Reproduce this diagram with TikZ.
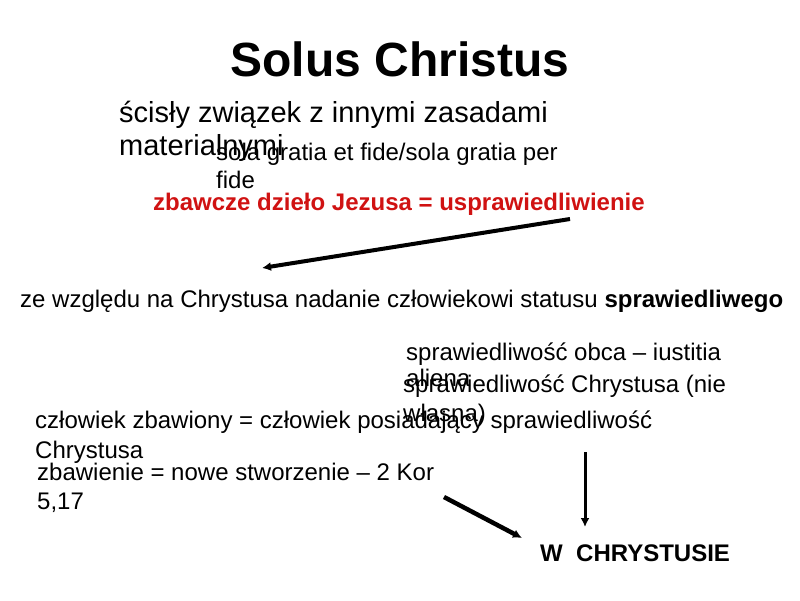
\documentclass[tikz,border=0pt]{standalone}
\usepackage{fontspec}
\setmainfont{Liberation Sans}
\usetikzlibrary{arrows.meta}
\definecolor{slidered}{RGB}{208,18,18}
\tikzset{headarrow/.style = {-{Latex[length=9pt,width=9pt]}, line width=4pt}}

\begin{document}
\begin{tikzpicture}[x=1pt, y=-1pt,
    slidetext/.style = {anchor=base west, inner sep=0pt, align=left,
        font=\fontsize{24}{28}\selectfont},
    bigtext/.style = {slidetext, font=\fontsize{29}{33}\selectfont}]
    \useasboundingbox (0,0) rectangle (800,600);

    \node[anchor=base, inner sep=0pt, font=\bfseries\fontsize{48}{58}\selectfont]
        (title) at (400,76) {Solus Christus};
    \node[bigtext] (zasady) at (119,155)
        {ścisły związek z innymi zasadami\\materialnymi};
    \node[slidetext] (sola) at (216,188)
        {sola gratia et fide/sola gratia per\\fide};
    \node[slidetext, font=\bfseries\fontsize{24}{28}\selectfont, text=slidered]
        (dzielo) at (153,210) {zbawcze dzieło Jezusa = usprawiedliwienie};
    \node[slidetext] (status) at (20,307)
        {ze względu na Chrystusa nadanie człowiekowi statusu \textbf{sprawiedliwego}};
    \node[slidetext, font=\fontsize{24}{26}\selectfont] (obca) at (406,386)
        {sprawiedliwość obca – iustitia\\aliena};
    \node[slidetext, font=\fontsize{24}{29}\selectfont] (chrystusa) at (403,421)
        {sprawiedliwość Chrystusa (nie\\własna)};
    \node[slidetext, font=\fontsize{24}{30}\selectfont] (zbawiony) at (35,458)
        {człowiek zbawiony = człowiek posiadający sprawiedliwość\\Chrystusa};
    \node[slidetext, font=\fontsize{24}{29}\selectfont] (stworzenie) at (37,509)
        {zbawienie = nowe stworzenie – 2 Kor\\5,17};
    \node[slidetext, font=\bfseries\fontsize{24}{28}\selectfont] (wchrystusie) at (540,561)
        {W\ \ CHRYSTUSIE};

    \coordinate (d1) at (570,219);
    \coordinate (s1) at (262,268);
    \coordinate (c2) at (585,452);
    \coordinate (w2) at (585,527);
    \coordinate (z3) at (444,497);
    \coordinate (w3) at (522,538);

    \draw[headarrow] (d1) to (s1);
    \draw[headarrow, line width=3pt] (c2) to (w2);
    \draw[headarrow, line width=4.5pt] (z3) to (w3);
\end{tikzpicture}
\end{document}
